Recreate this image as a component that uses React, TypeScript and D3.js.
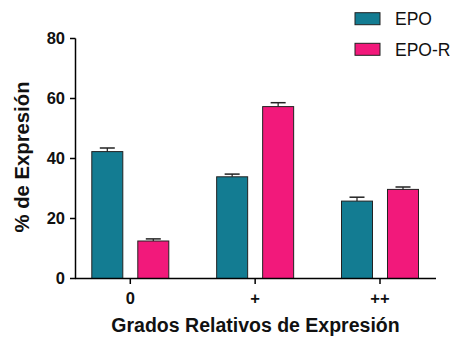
import React from 'react';
import * as d3 from 'd3';

const categories = ['0', '+', '++'];
const seriesNames = ['EPO', 'EPO-R'];
const epoValues = [42.3, 33.9, 25.8];
const epoErrors = [1.2, 0.9, 1.3];
const epoRValues = [12.5, 57.3, 29.7];
const epoRErrors = [0.7, 1.3, 0.8];
const yTicks = [0, 20, 40, 60, 80];

const colors = ['#137c92', '#f2197b'];
const font = 'Liberation Sans, Arial, Helvetica, sans-serif';

const App = () => {
  const width = 457;
  const height = 345;

  const yScale = d3.scaleLinear().domain([0, 80]).range([278.5, 38.5]);
  const xScale = d3.scalePoint<string>().domain(categories).range([130.3, 380]);
  const subScale = d3.scaleBand<string>()
    .domain(seriesNames)
    .range([-38.5, 38.5])
    .paddingInner(0.326);

  const series = [
    { name: 'EPO', values: epoValues, errors: epoErrors },
    { name: 'EPO-R', values: epoRValues, errors: epoRErrors },
  ];

  return (
    <svg
      width={width}
      height={height}
      style={{ position: 'absolute', left: 0, top: 0 }}
      fontFamily={font}
    >
      {/* bars */}
      {series.map((s, si) =>
        s.values.map((v, i) => {
          const x0 = (xScale(categories[i]) as number) + (subScale(s.name) as number);
          const bw = subScale.bandwidth();
          const cx = x0 + bw / 2;
          const yTop = yScale(v);
          const yErr = yScale(v + s.errors[i]);
          return (
            <g key={s.name + i}>
              <rect
                x={x0}
                y={yTop}
                width={bw}
                height={yScale(0) - yTop}
                fill={colors[si]}
                stroke="#222"
                strokeWidth={1}
              />
              <line x1={cx} x2={cx} y1={yTop} y2={yErr} stroke="#222" strokeWidth={1.2} />
              <line x1={cx - 7.5} x2={cx + 7.5} y1={yErr} y2={yErr} stroke="#222" strokeWidth={1.5} />
            </g>
          );
        })
      )}

      {/* y axis */}
      <line x1={75.5} x2={75.5} y1={yScale(80)} y2={yScale(0)} stroke="#000" strokeWidth={1.5} />
      {yTicks.map((t) => (
        <g key={t}>
          <line x1={70} x2={75.5} y1={yScale(t)} y2={yScale(t)} stroke="#000" strokeWidth={1.5} />
          <text
            x={65}
            y={yScale(t)}
            dy="0.36em"
            textAnchor="end"
            fontSize={16.5}
            fontWeight="bold"
            fill="#111"
          >
            {t}
          </text>
        </g>
      ))}

      {/* x axis */}
      <line x1={75} x2={436} y1={yScale(0)} y2={yScale(0)} stroke="#000" strokeWidth={1.5} />
      {categories.map((c) => (
        <g key={c}>
          <line
            x1={xScale(c)}
            x2={xScale(c)}
            y1={yScale(0)}
            y2={yScale(0) + 5.5}
            stroke="#000"
            strokeWidth={1.5}
          />
          <text
            x={xScale(c)}
            y={304}
            textAnchor="middle"
            fontSize={16.5}
            fontWeight="bold"
            fill="#111"
          >
            {c}
          </text>
        </g>
      ))}

      {/* axis titles */}
      <text
        x={255.5}
        y={331.5}
        textAnchor="middle"
        fontSize={19.5}
        fontWeight="bold"
        fill="#111"
      >
        Grados Relativos de Expresión
      </text>
      <text
        transform={`translate(28.5,${157}) rotate(-90)`}
        textAnchor="middle"
        fontSize={20.3}
        fontWeight="bold"
        fill="#111"
      >
        % de Expresión
      </text>

      {/* legend */}
      {seriesNames.map((name, i) => (
        <g key={name} transform={`translate(355,${12.7 + i * 30.6})`}>
          <rect width={25} height={12} fill={colors[i]} stroke="#222" strokeWidth={1} />
          <text x={40} y={12.5} fontSize={17.5} fill="#111">
            {name}
          </text>
        </g>
      ))}
    </svg>
  );
};

export default App;
